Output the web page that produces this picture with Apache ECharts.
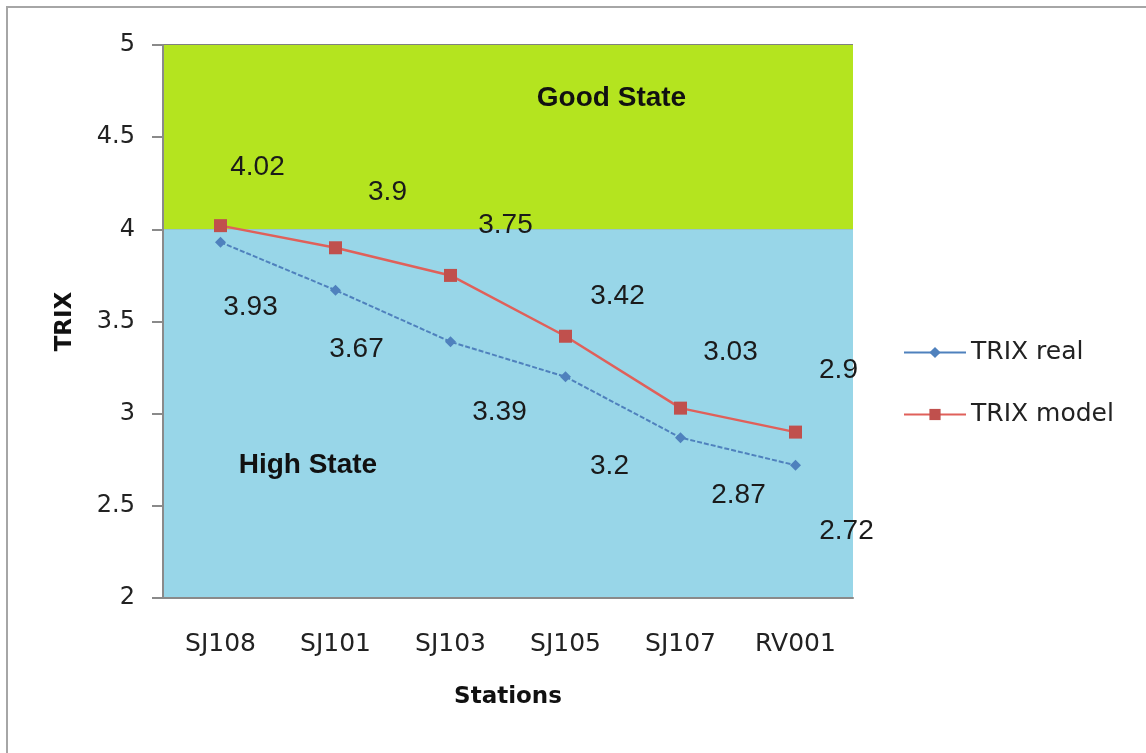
<!DOCTYPE html>
<html>
<head>
<meta charset="utf-8">
<script src="https://cdn.jsdelivr.net/npm/echarts@6/dist/echarts.min.js"></script>
<style>
  html, body { margin: 0; padding: 0; background: #fff; }
  #main { width: 1146px; height: 753px; }
</style>
</head>
<body>
<div id="main"></div>
<script>
var stations = ['SJ108', 'SJ101', 'SJ103', 'SJ105', 'SJ107', 'RV001']
var trixReal = [3.93, 3.67, 3.39, 3.2, 2.87, 2.72]
var trixModel = [4.02, 3.9, 3.75, 3.42, 3.03, 2.9]
var yTicks = [2, 2.5, 3, 3.5, 4, 4.5, 5]
var goodState = [4, 5]
var highState = [2, 4]

// where excel put the data labels, relative to each point
var realLabelOffsets = [[30, 65], [21, 59], [49, 71], [44, 89], [58, 58], [51, 66]]
var modelLabelOffsets = [[37, -58], [52, -55], [55, -50], [52, -40], [50, -56], [43, -62]]

var axisFont = '"DejaVu Sans", Tahoma, sans-serif'
var labelFont = '"Liberation Sans", Arial, sans-serif'

function withLabels(values, offsets) {
    return values.map(function (v, i) {
        return { value: v, label: { offset: offsets[i] } }
    })
}

var myChart = echarts.init(document.getElementById('main'))

myChart.setOption({
    animation: false,
    backgroundColor: '#fff',
    graphic: [{
        type: 'rect',
        shape: { x: 7, y: 7, width: 1160, height: 770 },
        style: { fill: 'none', stroke: '#a6a6a6', lineWidth: 2 },
        silent: true
    }],
    grid: { left: 163, right: 293, top: 45, bottom: 155 },
    legend: {
        orient: 'vertical',
        left: 898,
        top: 335,
        itemGap: 37,
        itemWidth: 62,
        itemHeight: 14,
        lineStyle: { type: 'solid' },
        textStyle: { fontFamily: axisFont, fontSize: 25, color: '#222' },
        data: ['TRIX real', 'TRIX model']
    },
    xAxis: {
        type: 'category',
        data: stations,
        boundaryGap: true,
        name: 'Stations',
        nameLocation: 'middle',
        nameGap: 88,
        nameTextStyle: { fontFamily: axisFont, fontSize: 23, fontWeight: 'bold', color: '#111' },
        axisLine: { lineStyle: { color: '#8a8a8a', width: 2 } },
        axisTick: { length: 9, lineStyle: { color: '#8a8a8a', width: 2 } },
        axisLabel: { fontFamily: axisFont, fontSize: 25, color: '#222', margin: 34 }
    },
    yAxis: {
        type: 'value',
        min: yTicks[0],
        max: yTicks[yTicks.length - 1],
        interval: 0.5,
        name: 'TRIX',
        nameLocation: 'middle',
        nameRotate: 90,
        nameGap: 86,
        nameTextStyle: { fontFamily: axisFont, fontSize: 23, fontWeight: 'bold', color: '#111' },
        axisLine: { show: true, lineStyle: { color: '#8a8a8a', width: 2 } },
        axisTick: { show: true, length: 11, lineStyle: { color: '#8a8a8a', width: 2 } },
        axisLabel: { fontFamily: axisFont, fontSize: 24, color: '#222', margin: 28 },
        splitLine: { lineStyle: { color: '#808080', width: 2 } }
    },
    series: [
        {
            name: 'TRIX real',
            type: 'line',
            data: withLabels(trixReal, realLabelOffsets),
            symbol: 'diamond',
            symbolSize: 11,
            itemStyle: { color: '#4f81bd' },
            lineStyle: { color: '#4f81bd', width: 2, type: [5, 2] },
            label: {
                show: true,
                position: 'inside',
                fontFamily: labelFont,
                fontSize: 28,
                color: '#1a1a1a'
            },
            markArea: {
                silent: true,
                z: 0,
                data: [
                    [{
                        yAxis: goodState[0],
                        itemStyle: { color: '#b4e41f' },
                        label: {
                            show: true,
                            formatter: 'Good State',
                            position: ['65%', '29%'],
                            align: 'center',
                            verticalAlign: 'middle',
                            fontFamily: labelFont,
                            fontWeight: 'bold',
                            fontSize: 28,
                            color: '#111'
                        }
                    }, { yAxis: goodState[1] }],
                    [{
                        yAxis: highState[0],
                        itemStyle: { color: '#98d6e8' },
                        label: {
                            show: true,
                            formatter: 'High State',
                            position: ['21%', '64%'],
                            align: 'center',
                            verticalAlign: 'middle',
                            fontFamily: labelFont,
                            fontWeight: 'bold',
                            fontSize: 28,
                            color: '#111'
                        }
                    }, { yAxis: highState[1] }]
                ]
            }
        },
        {
            name: 'TRIX model',
            type: 'line',
            data: withLabels(trixModel, modelLabelOffsets),
            symbol: 'rect',
            symbolSize: 13,
            itemStyle: { color: '#c0504d' },
            lineStyle: { color: '#e0605a', width: 2.5 },
            label: {
                show: true,
                position: 'inside',
                fontFamily: labelFont,
                fontSize: 28,
                color: '#1a1a1a'
            }
        }
    ]
})
</script>
</body>
</html>
